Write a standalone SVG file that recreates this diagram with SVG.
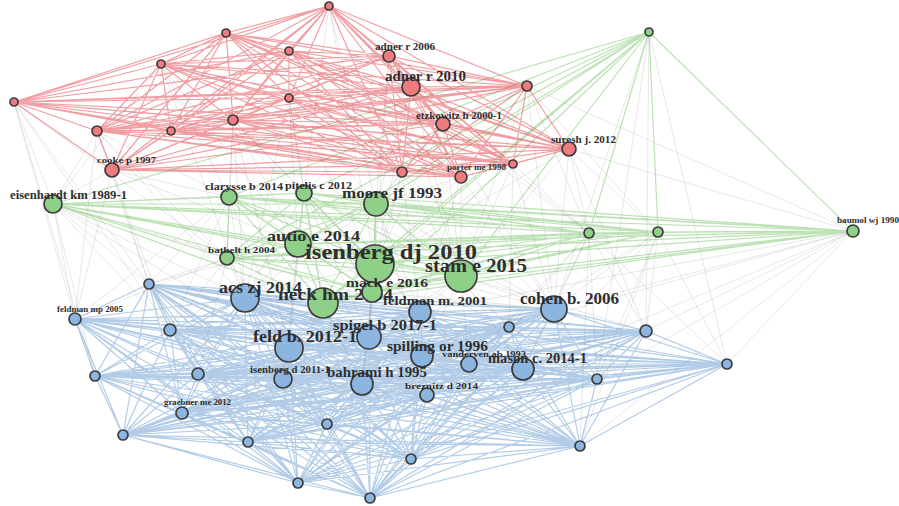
<svg xmlns="http://www.w3.org/2000/svg" width="899" height="506" viewBox="0 0 899 506">
<style>
.ex{fill:none;stroke:#a8a8a8;stroke-opacity:.26;stroke-width:1}
.eg{fill:none;stroke:#62b952;stroke-opacity:.42;stroke-width:1.2}
.eb{fill:none;stroke:#3f7fc4;stroke-opacity:.4;stroke-width:1.2}
.er{fill:none;stroke:#e2343f;stroke-opacity:.48;stroke-width:1.2}
circle{stroke:#3b3b3b;stroke-width:1.7}
.r circle{fill:#f07b7e}
.g circle{fill:#8fd088}
.b circle{fill:#8cb5df}
text{font-family:"Liberation Serif","Times New Roman",serif;font-weight:bold;fill:#2e2e2e;text-anchor:middle}
</style>
<g id="connectors">
<path class="ex" d="M53 204L14 102L75 319M95 376L14 102L149 284M227 258L14 102L170 330M53 204L97 131L149 284M75 319L97 131L229 197M227 258L97 131L245 298M53 204L112 170L229 197M298 244L112 170L149 284M75 319L112 170L170 330M53 204L161 64L229 197M298 244L161 64L375 264M245 298L161 64M229 197L233 120L304 193M298 244L233 120L227 258M375 264L233 120L245 298M289 348L233 120M304 193L289 98L376 204M298 244L289 98L375 264M323 303L289 98L245 298M376 204L411 87L375 264M461 276L411 87L304 193M589 233L411 87M376 204L402 172L375 264M461 276L402 172L372 292M420 312L402 172L554 309M376 204L443 124L375 264M461 276L443 124L589 233M554 309L443 124M461 276L569 149L589 233M658 232L569 149L853 231M554 309L569 149L646 331M375 264L569 149M589 233L527 86L658 232M853 231L527 86L461 276M554 309L527 86M461 276L513 164L375 264M589 233L513 164L554 309M509 327L513 164M461 276L461 177L375 264M376 204L461 177L420 312M554 309L461 177M304 193L329 6L376 204M375 264L329 6M376 204L389 56L375 264M461 276L389 56M149 284L53 204L75 319M170 330L53 204L95 376M245 298L53 204L420 312M289 348L53 204M149 284L229 197L245 298M170 330L229 197L289 348M420 312L229 197L75 319M245 298L304 193L289 348M369 337L304 193L420 312M554 309L304 193M420 312L376 204L554 309M369 337L376 204L245 298M422 356L376 204L509 327M149 284L298 244L245 298M170 330L298 244L289 348M369 337L298 244L283 379M149 284L227 258L75 319M170 330L227 258L198 374M289 348L227 258L245 298M245 298L375 264L420 312M554 309L375 264L289 348M369 337L375 264L422 356M362 384L375 264L509 327M245 298L323 303L289 348M369 337L323 303L283 379M198 374L323 303L170 330M362 384L323 303M420 312L372 292L369 337M422 356L372 292L362 384M554 309L372 292M420 312L461 276L554 309M509 327L461 276L422 356M469 364L461 276L523 369M369 337L461 276L646 331M554 309L589 233L509 327M646 331L589 233L523 369M597 379L589 233L727 364M469 364L589 233L580 446M554 309L658 232L646 331M597 379L658 232L727 364M523 369L658 232L580 446M509 327L658 232M554 309L853 231L646 331M727 364L853 231L597 379M523 369L853 231L580 446M509 327L853 231L420 312M554 309L649 32L646 331M727 364L649 32L597 379"/>
<path class="eg" d="M53 204L649 32L229 197M304 193L649 32L376 204M298 244L649 32L227 258M375 264L649 32L323 303M372 292L649 32L461 276M589 233L649 32L658 232M853 231L649 32M229 197L53 204L304 193M376 204L53 204L298 244M227 258L53 204L375 264M323 303L53 204L372 292M461 276L53 204L589 233M658 232L53 204L853 231M304 193L229 197L376 204M298 244L229 197L227 258M375 264L229 197L323 303M372 292L229 197L461 276M589 233L229 197L658 232M853 231L229 197M376 204L304 193L298 244M227 258L304 193L375 264M323 303L304 193L372 292M461 276L304 193L589 233M658 232L304 193L853 231M298 244L376 204L227 258M375 264L376 204L323 303M372 292L376 204L461 276M589 233L376 204L658 232M853 231L376 204M227 258L298 244L375 264M323 303L298 244L372 292M461 276L298 244L589 233M658 232L298 244L853 231M375 264L227 258L323 303M372 292L227 258L461 276M589 233L227 258L658 232M853 231L227 258M323 303L375 264L372 292M461 276L375 264L589 233M658 232L375 264L853 231M372 292L323 303L461 276M589 233L323 303L658 232M853 231L323 303M461 276L372 292L589 233M658 232L372 292L853 231M589 233L461 276L658 232M853 231L461 276M658 232L589 233L853 231M658 232L853 231"/>
<path class="eb" d="M245 298L149 284L75 319M420 312L149 284L554 309M509 327L149 284L646 331M422 356L149 284L469 364M523 369L149 284L597 379M727 364L149 284L427 395M170 330L149 284L289 348M369 337L149 284L95 376M198 374L149 284L283 379M362 384L149 284L182 413M123 435L149 284L248 442M327 424L149 284L411 459M298 483L149 284L370 498M580 446L149 284M75 319L245 298L420 312M554 309L245 298L509 327M646 331L245 298L422 356M469 364L245 298L523 369M597 379L245 298L727 364M427 395L245 298L170 330M289 348L245 298L369 337M95 376L245 298L198 374M283 379L245 298L362 384M182 413L245 298L123 435M248 442L245 298L327 424M411 459L245 298L298 483M370 498L245 298L580 446M420 312L75 319L554 309M509 327L75 319L646 331M422 356L75 319L469 364M523 369L75 319L597 379M727 364L75 319L427 395M170 330L75 319L289 348M369 337L75 319L95 376M198 374L75 319L283 379M362 384L75 319L182 413M123 435L75 319L248 442M327 424L75 319L411 459M298 483L75 319L370 498M580 446L75 319M554 309L420 312L509 327M646 331L420 312L422 356M469 364L420 312L523 369M597 379L420 312L727 364M427 395L420 312L170 330M289 348L420 312L369 337M95 376L420 312L198 374M283 379L420 312L362 384M182 413L420 312L123 435M248 442L420 312L327 424M411 459L420 312L298 483M370 498L420 312L580 446M509 327L554 309L646 331M422 356L554 309L469 364M523 369L554 309L597 379M727 364L554 309L427 395M170 330L554 309L289 348M369 337L554 309L95 376M198 374L554 309L283 379M362 384L554 309L182 413M123 435L554 309L248 442M327 424L554 309L411 459M298 483L554 309L370 498M580 446L554 309M646 331L509 327L422 356M469 364L509 327L523 369M597 379L509 327L727 364M427 395L509 327L170 330M289 348L509 327L369 337M95 376L509 327L198 374M283 379L509 327L362 384M182 413L509 327L123 435M248 442L509 327L327 424M411 459L509 327L298 483M370 498L509 327L580 446M422 356L646 331L469 364M523 369L646 331L597 379M727 364L646 331L427 395M170 330L646 331L289 348M369 337L646 331L95 376M198 374L646 331L283 379M362 384L646 331L182 413M123 435L646 331L248 442M327 424L646 331L411 459M298 483L646 331L370 498M580 446L646 331M469 364L422 356L523 369M597 379L422 356L727 364M427 395L422 356L170 330M289 348L422 356L369 337M95 376L422 356L198 374M283 379L422 356L362 384M182 413L422 356L123 435M248 442L422 356L327 424M411 459L422 356L298 483M370 498L422 356L580 446M523 369L469 364L597 379M727 364L469 364L427 395M170 330L469 364L289 348M369 337L469 364L95 376M198 374L469 364L283 379M362 384L469 364L182 413M123 435L469 364L248 442M327 424L469 364L411 459M298 483L469 364L370 498M580 446L469 364M597 379L523 369L727 364M427 395L523 369L170 330M289 348L523 369L369 337M95 376L523 369L198 374M283 379L523 369L362 384M182 413L523 369L123 435M248 442L523 369L327 424M411 459L523 369L298 483M370 498L523 369L580 446M727 364L597 379L427 395M170 330L597 379L289 348M369 337L597 379L95 376M198 374L597 379L283 379M362 384L597 379L182 413M123 435L597 379L248 442M327 424L597 379L411 459M298 483L597 379L370 498M580 446L597 379M427 395L727 364L170 330M289 348L727 364L369 337M95 376L727 364L198 374M283 379L727 364L362 384M182 413L727 364L123 435M248 442L727 364L327 424M411 459L727 364L298 483M370 498L727 364L580 446M170 330L427 395L289 348M369 337L427 395L95 376M198 374L427 395L283 379M362 384L427 395L182 413M123 435L427 395L248 442M327 424L427 395L411 459M298 483L427 395L370 498M580 446L427 395M289 348L170 330L369 337M95 376L170 330L198 374M283 379L170 330L362 384M182 413L170 330L123 435M248 442L170 330L327 424M411 459L170 330L298 483M370 498L170 330L580 446M369 337L289 348L95 376M198 374L289 348L283 379M362 384L289 348L182 413M123 435L289 348L248 442M327 424L289 348L411 459M298 483L289 348L370 498M580 446L289 348M95 376L369 337L198 374M283 379L369 337L362 384M182 413L369 337L123 435M248 442L369 337L327 424M411 459L369 337L298 483M370 498L369 337L580 446M198 374L95 376L283 379M362 384L95 376L182 413M123 435L95 376L248 442M327 424L95 376L411 459M298 483L95 376L370 498M580 446L95 376M283 379L198 374L362 384M182 413L198 374L123 435M248 442L198 374L327 424M411 459L198 374L298 483M370 498L198 374L580 446M362 384L283 379L182 413M123 435L283 379L248 442M327 424L283 379L411 459M298 483L283 379L370 498M580 446L283 379M182 413L362 384L123 435M248 442L362 384L327 424M411 459L362 384L298 483M370 498L362 384L580 446M123 435L182 413L248 442M327 424L182 413L411 459M298 483L182 413L370 498M580 446L182 413M248 442L123 435L327 424M411 459L123 435L298 483M370 498L123 435L580 446M327 424L248 442L411 459M298 483L248 442L370 498M580 446L248 442M411 459L327 424L298 483M370 498L327 424L580 446M298 483L411 459L370 498M580 446L411 459M370 498L298 483L580 446M370 498L580 446"/>
<path class="er" d="M226 33L329 6L289 51M161 64L329 6L389 56M411 87L329 6L14 102M289 98L329 6L233 120M97 131L329 6L171 131M112 170L329 6L402 172M443 124L329 6L527 86M569 149L329 6L513 164M461 177L329 6M289 51L226 33L161 64M389 56L226 33L411 87M14 102L226 33L289 98M233 120L226 33L97 131M171 131L226 33L112 170M402 172L226 33L443 124M527 86L226 33L569 149M513 164L226 33L461 177M161 64L289 51L389 56M411 87L289 51L14 102M289 98L289 51L233 120M97 131L289 51L171 131M112 170L289 51L402 172M443 124L289 51L527 86M569 149L289 51L513 164M461 177L289 51M389 56L161 64L411 87M14 102L161 64L289 98M233 120L161 64L97 131M171 131L161 64L112 170M402 172L161 64L443 124M527 86L161 64L569 149M513 164L161 64L461 177M411 87L389 56L14 102M289 98L389 56L233 120M97 131L389 56L171 131M112 170L389 56L402 172M443 124L389 56L527 86M569 149L389 56L513 164M461 177L389 56M14 102L411 87L289 98M233 120L411 87L97 131M171 131L411 87L112 170M402 172L411 87L443 124M527 86L411 87L569 149M513 164L411 87L461 177M289 98L14 102L233 120M97 131L14 102L171 131M112 170L14 102L402 172M443 124L14 102L527 86M569 149L14 102L513 164M461 177L14 102M233 120L289 98L97 131M171 131L289 98L112 170M402 172L289 98L443 124M527 86L289 98L569 149M513 164L289 98L461 177M97 131L233 120L171 131M112 170L233 120L402 172M443 124L233 120L527 86M569 149L233 120L513 164M461 177L233 120M171 131L97 131L112 170M402 172L97 131L443 124M527 86L97 131L569 149M513 164L97 131L461 177M112 170L171 131L402 172M443 124L171 131L527 86M569 149L171 131L513 164M461 177L171 131M402 172L112 170L443 124M527 86L112 170L569 149M513 164L112 170L461 177M443 124L402 172L527 86M569 149L402 172L513 164M461 177L402 172M527 86L443 124L569 149M513 164L443 124L461 177M569 149L527 86L513 164M461 177L527 86M513 164L569 149L461 177M513 164L461 177"/>
</g>
<g class="r">
<g id="r1"><circle cx="329" cy="6" r="4"/></g>
<g id="r2"><circle cx="226" cy="33" r="4"/></g>
<g id="r3"><circle cx="289" cy="51" r="4"/></g>
<g id="r4"><circle cx="161" cy="64" r="4"/></g>
<g id="adner-r-2006"><circle cx="389" cy="56" r="6"/><text x="405" y="50" font-size="9.5" textLength="60" lengthAdjust="spacingAndGlyphs">adner r 2006</text></g>
<g id="adner-r-2010"><circle cx="411" cy="87" r="9"/><text x="425.5" y="81" font-size="14" textLength="81" lengthAdjust="spacingAndGlyphs">adner r 2010</text></g>
<g id="r7"><circle cx="14" cy="102" r="4"/></g>
<g id="r8"><circle cx="289" cy="98" r="4"/></g>
<g id="r9"><circle cx="233" cy="120" r="5"/></g>
<g id="r10"><circle cx="97" cy="131" r="5"/></g>
<g id="r11"><circle cx="171" cy="131" r="4"/></g>
<g id="cooke-p-1997"><circle cx="112" cy="170" r="7"/><text x="126.5" y="163" font-size="9" textLength="59" lengthAdjust="spacingAndGlyphs">cooke p 1997</text></g>
<g id="r13"><circle cx="402" cy="172" r="5"/></g>
<g id="etzkowitz-h-2000-1"><circle cx="443" cy="124" r="7"/><text x="459" y="119" font-size="10" textLength="86" lengthAdjust="spacingAndGlyphs">etzkowitz h 2000-1</text></g>
<g id="r15"><circle cx="527" cy="86" r="5"/></g>
<g id="suresh-j-2012"><circle cx="569" cy="149" r="7"/><text x="583.5" y="143" font-size="10" textLength="65" lengthAdjust="spacingAndGlyphs">suresh j. 2012</text></g>
<g id="r17"><circle cx="513" cy="164" r="4"/></g>
<g id="porter-me-1998"><circle cx="461" cy="177" r="6"/><text x="476.5" y="170" font-size="8" textLength="59" lengthAdjust="spacingAndGlyphs">porter me 1998</text></g>
</g>
<g class="g">
<g id="g1"><circle cx="649" cy="32" r="4"/></g>
<g id="eisenhardt-km-1989-1"><circle cx="53" cy="204" r="9"/><text x="68.5" y="199" font-size="11.5" textLength="117" lengthAdjust="spacingAndGlyphs">eisenhardt km 1989-1</text></g>
<g id="clarysse-b-2014"><circle cx="229" cy="197" r="8"/><text x="244" y="190" font-size="10.5" textLength="78" lengthAdjust="spacingAndGlyphs">clarysse b 2014</text></g>
<g id="pitelis-c-2012"><circle cx="304" cy="193" r="8"/><text x="318.5" y="189" font-size="10.5" textLength="67" lengthAdjust="spacingAndGlyphs">pitelis c 2012</text></g>
<g id="moore-jf-1993"><circle cx="376" cy="204" r="12"/><text x="392" y="198" font-size="15.5" textLength="100" lengthAdjust="spacingAndGlyphs">moore jf 1993</text></g>
<g id="autio-e-2014"><circle cx="298" cy="244" r="13"/><text x="313.5" y="241" font-size="15.5" textLength="93" lengthAdjust="spacingAndGlyphs">autio e 2014</text></g>
<g id="bathelt-h-2004"><circle cx="227" cy="258" r="7"/><text x="241.5" y="253" font-size="8.5" textLength="67" lengthAdjust="spacingAndGlyphs">bathelt h 2004</text></g>
<g id="isenberg-dj-2010"><circle cx="375" cy="264" r="19"/><text x="391" y="259" font-size="21" textLength="172" lengthAdjust="spacingAndGlyphs">isenberg dj 2010</text></g>
<g id="neck-hm-2004"><circle cx="323" cy="303" r="15"/><text x="335.5" y="300" font-size="17" textLength="115" lengthAdjust="spacingAndGlyphs">neck hm 2004</text></g>
<g id="mack-e-2016"><circle cx="372" cy="292" r="10"/><text x="387" y="287" font-size="13" textLength="82" lengthAdjust="spacingAndGlyphs">mack e 2016</text></g>
<g id="stam-e-2015"><circle cx="461" cy="276" r="16"/><text x="476" y="272" font-size="18" textLength="102" lengthAdjust="spacingAndGlyphs">stam e 2015</text></g>
<g id="g12"><circle cx="589" cy="233" r="5"/></g>
<g id="g13"><circle cx="658" cy="232" r="5"/></g>
<g id="baumol-wj-1990"><circle cx="853" cy="231" r="6"/><text x="868" y="223" font-size="7.5" textLength="62" lengthAdjust="spacingAndGlyphs">baumol wj 1990</text></g>
</g>
<g class="b">
<g id="b1"><circle cx="149" cy="284" r="5"/></g>
<g id="acs-zj-2014"><circle cx="245" cy="298" r="14"/><text x="260.5" y="293" font-size="16" textLength="83" lengthAdjust="spacingAndGlyphs">acs zj 2014</text></g>
<g id="feldman-mp-2005"><circle cx="75" cy="319" r="6"/><text x="90" y="312" font-size="7.5" textLength="66" lengthAdjust="spacingAndGlyphs">feldman mp 2005</text></g>
<g id="feldman-m-2001"><circle cx="420" cy="312" r="11"/><text x="435" y="305" font-size="13" textLength="104" lengthAdjust="spacingAndGlyphs">feldman m. 2001</text></g>
<g id="cohen-b-2006"><circle cx="554" cy="309" r="13"/><text x="569.5" y="304" font-size="16" textLength="99" lengthAdjust="spacingAndGlyphs">cohen b. 2006</text></g>
<g id="b6"><circle cx="509" cy="327" r="5"/></g>
<g id="b7"><circle cx="646" cy="331" r="6"/></g>
<g id="spilling-or-1996"><circle cx="422" cy="356" r="11"/><text x="437.5" y="351" font-size="14" textLength="101" lengthAdjust="spacingAndGlyphs">spilling or 1996</text></g>
<g id="vanderven-ab-1993"><circle cx="469" cy="364" r="8"/><text x="484" y="357" font-size="8.5" textLength="84" lengthAdjust="spacingAndGlyphs">vanderven ab 1993</text></g>
<g id="mason-c-2014-1"><circle cx="523" cy="369" r="11"/><text x="537.5" y="363" font-size="14" textLength="99" lengthAdjust="spacingAndGlyphs">mason c. 2014-1</text></g>
<g id="b11"><circle cx="597" cy="379" r="5"/></g>
<g id="b12"><circle cx="727" cy="364" r="5"/></g>
<g id="breznitz-d-2014"><circle cx="427" cy="395" r="7"/><text x="441.5" y="389" font-size="9" textLength="73" lengthAdjust="spacingAndGlyphs">breznitz d 2014</text></g>
<g id="b14"><circle cx="170" cy="330" r="6"/></g>
<g id="feld-b-2012-1"><circle cx="289" cy="348" r="14"/><text x="305" y="342" font-size="17.5" textLength="104" lengthAdjust="spacingAndGlyphs">feld b. 2012-1</text></g>
<g id="spigel-b-2017-1"><circle cx="369" cy="337" r="12"/><text x="385" y="330" font-size="15" textLength="104" lengthAdjust="spacingAndGlyphs">spigel b 2017-1</text></g>
<g id="b17"><circle cx="95" cy="376" r="5"/></g>
<g id="b18"><circle cx="198" cy="374" r="6"/></g>
<g id="isenberg-d-2011-1"><circle cx="283" cy="379" r="9"/><text x="290" y="373" font-size="10" textLength="80" lengthAdjust="spacingAndGlyphs">isenberg d 2011-1</text></g>
<g id="bahrami-h-1995"><circle cx="362" cy="384" r="11"/><text x="377" y="377" font-size="15" textLength="100" lengthAdjust="spacingAndGlyphs">bahrami h 1995</text></g>
<g id="graebner-me-2012"><circle cx="182" cy="413" r="6"/><text x="197.5" y="405" font-size="7.5" textLength="67" lengthAdjust="spacingAndGlyphs">graebner me 2012</text></g>
<g id="b22"><circle cx="123" cy="435" r="5"/></g>
<g id="b23"><circle cx="248" cy="442" r="5"/></g>
<g id="b24"><circle cx="327" cy="424" r="5"/></g>
<g id="b25"><circle cx="411" cy="459" r="5"/></g>
<g id="b26"><circle cx="298" cy="483" r="5"/></g>
<g id="b27"><circle cx="370" cy="498" r="5"/></g>
<g id="b28"><circle cx="580" cy="446" r="5"/></g>
</g>
</svg>
